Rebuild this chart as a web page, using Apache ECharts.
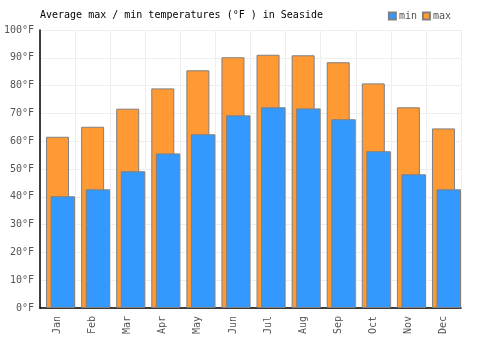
<!DOCTYPE html>
<html>
<head>
<meta charset="utf-8">
<script src="https://cdn.jsdelivr.net/npm/echarts@6/dist/echarts.min.js"></script>
<style>
  html, body { margin: 0; padding: 0; background: #fff; }
  #chart { width: 500px; height: 350px; }
</style>
</head>
<body>
<div id="chart"></div>
<script>
// data
const months = ['Jan', 'Feb', 'Mar', 'Apr', 'May', 'Jun', 'Jul', 'Aug', 'Sep', 'Oct', 'Nov', 'Dec']
const maxTemps = [61.6, 65.2, 71.7, 79.0, 85.5, 90.2, 91.1, 90.9, 88.4, 80.8, 72.2, 64.6]
const minTemps = [40.2, 42.7, 49.2, 55.6, 62.5, 69.3, 72.2, 71.8, 67.9, 56.4, 48.1, 42.7]
const empty = months.map(() => '-')

const mono = 'DejaVu Sans Mono'
const chart = echarts.init(document.getElementById('chart'))

const option = {
  animation: false,
  title: {
    text: 'Average max / min temperatures (°F ) in Seaside',
    left: 35,
    top: 5,
    textStyle: { fontFamily: mono, fontSize: 10, fontWeight: 'normal', color: '#000' },
  },
  legend: {
    data: ['min', 'max'],
    right: 44,
    top: 6,
    itemWidth: 7,
    itemHeight: 7,
    itemGap: 5,
    icon: 'rect',
    textStyle: { fontFamily: mono, fontSize: 10, color: '#555', padding: [0, 0, 0, -2] },
  },
  grid: { left: 40, right: 39, top: 30, bottom: 42 },
  xAxis: [
    {
      type: 'category',
      data: months,
      axisLine: { lineStyle: { color: '#000', width: 1.5 } },
      axisTick: { show: false },
      splitLine: { show: true, lineStyle: { color: '#eeeeee' } },
      axisLabel: { rotate: 90, fontFamily: mono, fontSize: 10, color: '#555', margin: 8 },
    },
    {
      type: 'category',
      data: months,
      show: false,
    },
  ],
  yAxis: {
    type: 'value',
    min: 0,
    max: 100,
    interval: 10,
    axisLine: { show: true, lineStyle: { color: '#000', width: 1.5 } },
    axisTick: { show: false },
    splitLine: { lineStyle: { color: '#eeeeee' } },
    axisLabel: { formatter: '{value}°F', fontFamily: mono, fontSize: 10, color: '#555', margin: 6 },
  },
  series: [
    {
      name: 'max',
      type: 'bar',
      xAxisIndex: 0,
      barWidth: 23,
      data: maxTemps,
      itemStyle: { color: '#ff9933', borderColor: '#808080', borderWidth: 1 },
    },
    // spacer so the min bars sit a bit to the right
    {
      name: 'spacer',
      type: 'bar',
      xAxisIndex: 1,
      barWidth: 10.6,
      barGap: 0,
      data: empty,
    },
    {
      name: 'min',
      type: 'bar',
      xAxisIndex: 1,
      barWidth: 24.5,
      barGap: 0,
      data: minTemps,
      itemStyle: { color: '#3399ff', borderColor: '#808080', borderWidth: 1 },
    },
  ],
}

chart.setOption(option)
</script>
</body>
</html>
